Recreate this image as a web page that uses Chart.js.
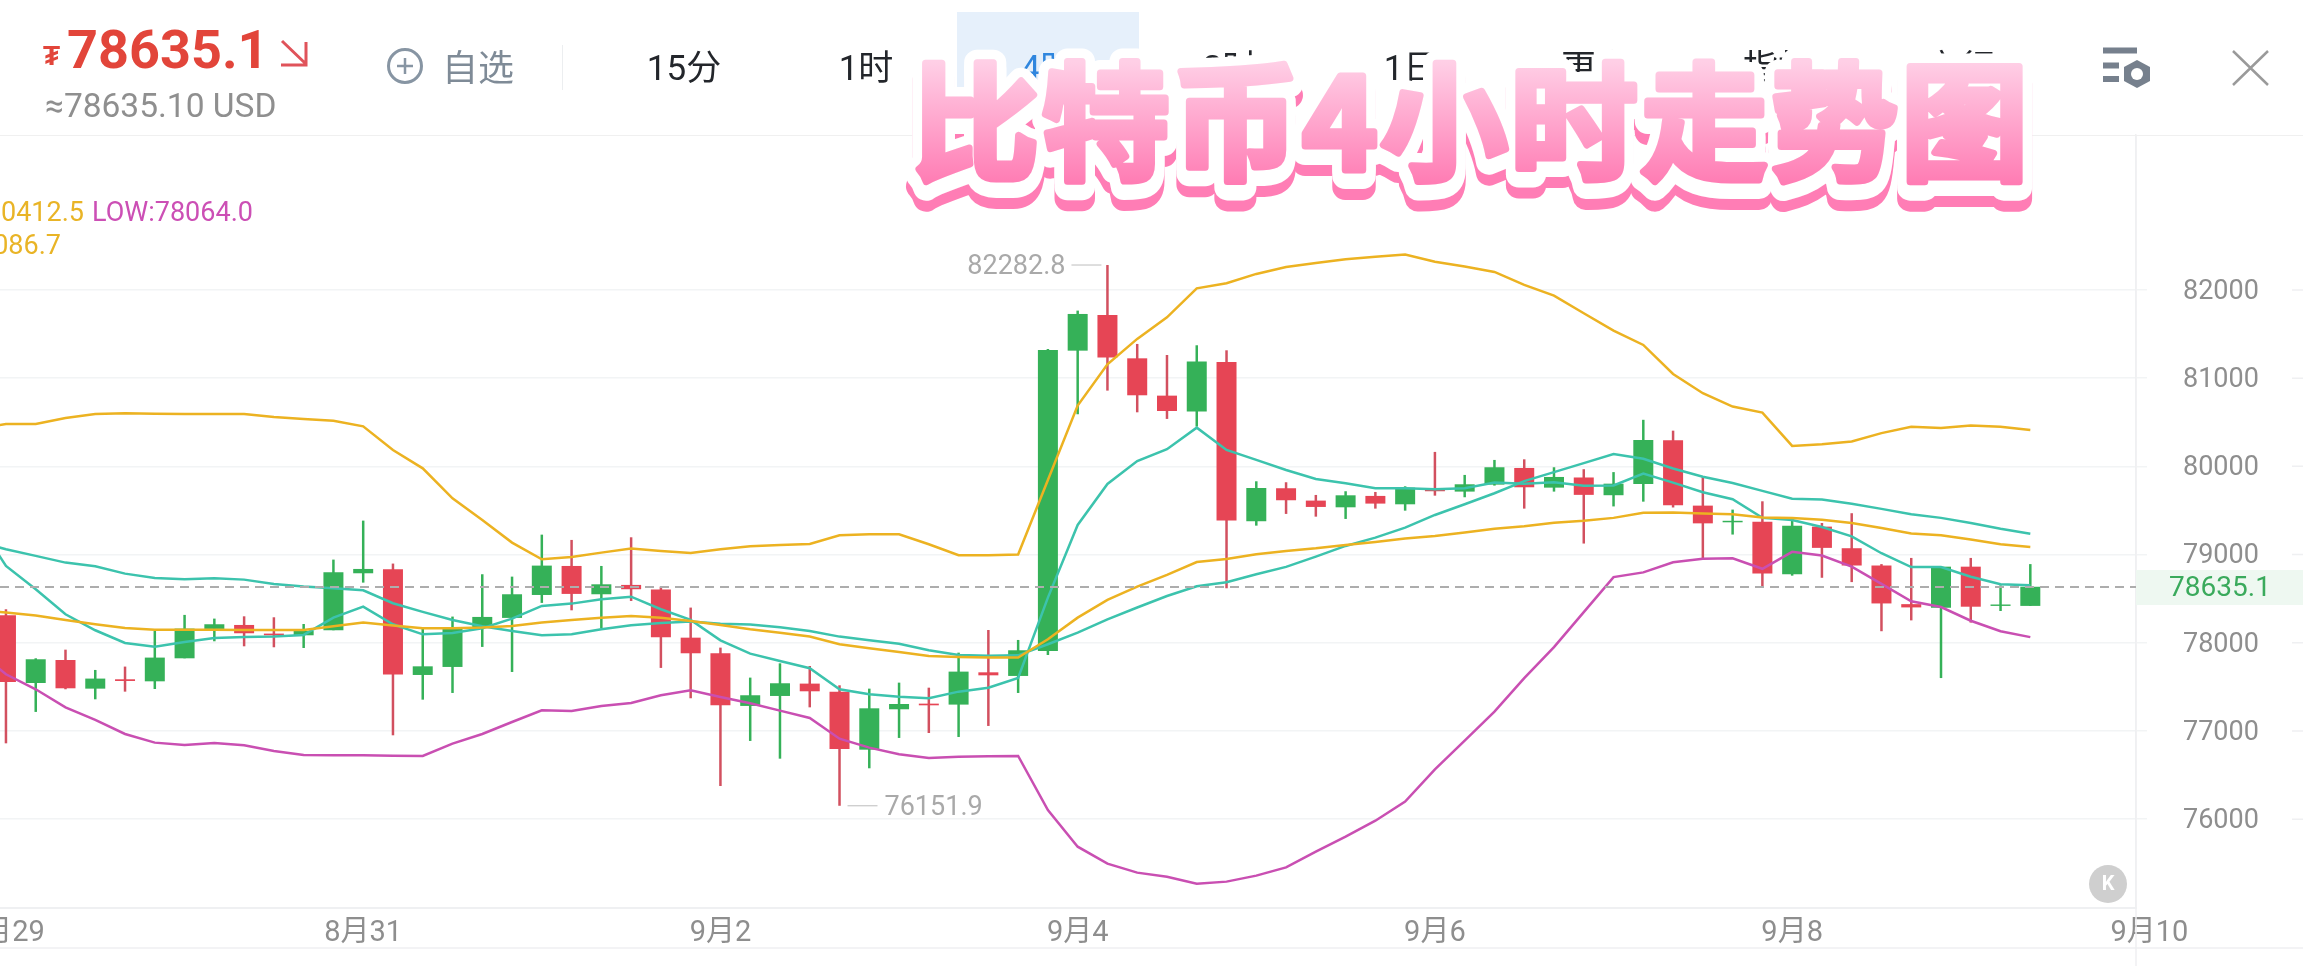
<!DOCTYPE html>
<html>
<head>
<meta charset="utf-8">
<style>
    html, body { margin: 0; padding: 0; background: #fff; }
    body { width: 2303px; height: 966px; position: relative; overflow: hidden; font-family: Roboto, "Noto Sans CJK SC", sans-serif; }
    #chart { position: absolute; left: 0; top: 0; }
    .t { position: absolute; white-space: nowrap; line-height: 1; }
    #tabBox { position: absolute; left: 957px; top: 12px; width: 182px; height: 78px; background: #e6f0fb; }
    #headLine { position: absolute; left: 0; top: 135px; width: 2303px; height: 1px; background: #f0f0f0; }
    #divider { position: absolute; left: 562px; top: 45px; width: 1px; height: 45px; background: #eceef0; }
    .tab { font-size: 35px; color: #23262b; transform: translateX(-50%); top: 51px; }
    svg { position: absolute; left: 0; top: 0; }
    #title { pointer-events: none; }
</style>
</head>
<body>
<canvas id="chart" width="2303" height="966"></canvas>

<div id="headLine"></div>
<div id="tabBox"></div>
<div id="divider"></div>

<div class="t" style="left:43px;top:42px;font-size:28px;font-weight:700;color:#e2453a">₮</div>
<div class="t" style="left:67px;top:23px;font-size:54px;font-weight:700;color:#e2453a">78635.1</div>
<div class="t" style="left:45px;top:89px;font-size:33.5px;color:#8f8f8f">≈78635.10 USD</div>
<div class="t" style="left:442px;top:51px;font-size:36px;color:#7f8b97">自选</div>

<div class="t tab" style="left:684px">15分</div>
<div class="t tab" style="left:866px">1时</div>
<div class="t tab" style="left:1048px;color:#2f86de">4时</div>
<div class="t tab" style="left:1230px">2时</div>
<div class="t tab" style="left:1411px">1日</div>
<div class="t tab" style="left:1596px">更多</div>
<div class="t tab" style="left:1778px">指标</div>
<div class="t tab" style="left:1960px">交行</div>

<svg width="2303" height="136" style="pointer-events:none">
    <path d="M282 41 L306 64 M306 42 V65 H281" fill="none" stroke="#e0535a" stroke-width="3"/>
    <circle cx="405" cy="66" r="16.5" fill="none" stroke="#8795a3" stroke-width="3"/>
    <path d="M397 66 H413 M405 58 V74" stroke="#8795a3" stroke-width="2.5"/>
    <path d="M2103 50.5 H2137 M2103 65.5 H2119 M2103 79 H2119" stroke="#76808d" stroke-width="6"/>
    <path d="M2137 60 L2150 67 V81 L2137 88 L2124 81 V67 Z" fill="#76808d"/>
    <circle cx="2137" cy="74" r="6" fill="#fff"/>
    <path d="M2233 51 L2268 85 M2268 51 L2233 85" stroke="#9a9a9a" stroke-width="2.5"/>
</svg>

<div class="t" style="right:2219px;top:199px;font-size:27px;color:#e9b426">UP:80412.5</div>
<div class="t" style="left:92px;top:199px;font-size:27px;color:#cc4fb5">LOW:78064.0</div>
<div class="t" style="right:2242px;top:232px;font-size:27px;color:#e9b426">BOLL:79086.7</div>

<svg id="title" width="2303" height="240">
    <defs>
        <linearGradient id="faceFill" gradientUnits="userSpaceOnUse" x1="0" y1="62" x2="0" y2="185">
            <stop offset="0" stop-color="#ffcfe6"/>
            <stop offset="1" stop-color="#ff7bb3"/>
        </linearGradient>
        <text id="titleText" x="912" y="170" font-family="Noto Sans CJK SC" font-weight="700" font-size="127" textLength="1116" stroke-linejoin="round">比特币4小时走势图</text>
    </defs>
    <use href="#titleText" y="17" fill="#ff7db5" stroke="#ff7db5" stroke-width="26"/>
    <use href="#titleText" y="6" fill="#fff" stroke="#fff" stroke-width="26"/>
    <use href="#titleText" fill="#fff" stroke="#fff" stroke-width="26"/>
    <use href="#titleText" fill="url(#faceFill)" stroke="url(#faceFill)" stroke-width="7"/>
</svg>

<script src="https://cdn.jsdelivr.net/npm/chart.js@4/dist/chart.umd.min.js"></script>
<script>
const dateLabels = ['8月29', '8月31', '9月2', '9月4', '9月6', '9月8', '9月10'];
const dateSlots = [0, 12, 24, 36, 48, 60, 72];
const priceTicks = [76000, 77000, 78000, 79000, 80000, 81000, 82000];
const lastPrice = 78635.1;

// 4h candles, first one is cut off by the left edge
const opens = [78312,77544,77805,77480,77586,77563,77824,78157,78202,78104,78085,78142,78788,78833,77635,77726,78168,78282,78542,78871,78550,78656,78603,78058,77881,77284,77397,77537,77446,76788,77246,77310,77299,77665,77624,77907,81312,81717,81225,80802,80621,81184,79378,79752,79612,79536,79665,79570,79737,79714,79793,79982,79759,79874,79673,79800,80295,79555,79366,79371,78778,79317,79072,78876,78438,78397,78863,78418,78418];
const closes = [77556,77813,77484,77594,77567,77832,78161,78210,78108,78085,78134,78799,78837,77639,77733,78172,78293,78550,78875,78554,78663,78607,78062,77881,77291,77405,77541,77450,76796,77257,77306,77291,77673,77631,77915,81320,81728,81233,80806,80628,81188,79385,79755,79616,79540,79672,79578,79759,79718,79797,79990,79763,79880,79677,79804,80299,79559,79354,79383,78786,79326,79076,78876,78446,78401,78863,78409,78434,78635.1];
const highs = [78380,77824,77922,77692,77730,78134,78316,78274,78300,78289,78213,78943,79385,78898,78164,78297,78777,78750,79226,79166,78871,79196,78637,78399,77945,77605,77767,77737,77518,77480,77548,77491,77888,78145,78032,81331,81766,82282.8,81388,81263,81373,81316,79831,79820,79676,79718,79710,79774,80164,79903,80073,80080,79990,79968,79935,80528,80405,79882,79510,79604,79383,79358,79469,78892,78962,78863,78962,78651,78892];
const lows = [76860,77216,77473,77359,77446,77476,77824,78017,77960,77949,77941,78142,78682,76951,77355,77431,77953,77669,78452,78368,78164,78474,77715,77371,76376,76887,76686,77268,76151.9,76577,76921,76977,76932,77057,77431,77862,80591,80859,80613,80538,80451,78618,79328,79461,79430,79404,79521,79498,79668,79650,79782,79521,79714,79125,79546,79600,79534,78953,79227,78634,78761,78737,78688,78131,78254,77600,78229,78360,78418];

// indicator lines start one slot before the first candle
const bollUpper = [80420,80481,80481,80549,80594,80601,80598,80594,80594,80594,80560,80537,80518,80454,80186,79978,79638,79392,79136,78947,78973,79022,79068,79041,79019,79060,79094,79109,79121,79219,79230,79230,79117,78992,78992,79000,79846,80689,81157,81445,81690,82019,82076,82182,82261,82306,82348,82378,82401,82321,82265,82204,82057,81936,81736,81539,81377,81048,80829,80678,80610,80232,80250,80283,80377,80450,80434,80463,80450,80412.5];
const bollMid = [78370,78342,78308,78259,78210,78168,78149,78149,78149,78145,78145,78145,78187,78229,78195,78164,78164,78172,78191,78229,78259,78285,78304,78285,78248,78202,78153,78115,78070,77983,77938,77896,77851,77839,77832,77832,78040,78285,78486,78637,78769,78916,78950,79003,79041,79071,79109,79143,79181,79211,79249,79294,79322,79362,79383,79416,79473,79477,79465,79457,79420,79416,79395,79358,79301,79240,79219,79170,79117,79086.7];
const bollLower = [77922,77643,77473,77268,77125,76966,76868,76841,76864,76838,76773,76728,76724,76724,76720,76717,76856,76966,77102,77234,77227,77284,77318,77405,77461,77386,77314,77231,77148,76913,76811,76736,76694,76709,76713,76717,76104,75688,75496,75394,75348,75269,75292,75360,75454,75632,75802,75983,76199,76565,76890,77219,77600,77951,78348,78745,78798,78913,78953,78957,78839,79031,78990,78863,78667,78471,78405,78250,78131,78064];
const maSlow = [79155,79060,78985,78909,78867,78784,78735,78720,78731,78716,78667,78637,78618,78595,78448,78350,78259,78187,78134,78085,78096,78153,78198,78225,78240,78217,78206,78176,78134,78070,78028,77990,77915,77862,77854,77858,77983,78115,78265,78400,78530,78641,78686,78777,78860,78977,79098,79192,79306,79449,79570,79695,79833,79935,80037,80140,80086,79976,79882,79812,79722,79632,79624,79575,79518,79457,79416,79358,79293,79236];
const maFast = [79393,78871,78607,78323,78142,77998,77956,78009,78055,78066,78070,78089,78285,78410,78210,78096,78111,78164,78274,78418,78444,78493,78523,78380,78259,78028,77877,77794,77711,77473,77416,77389,77371,77446,77491,77601,78512,79336,79801,80061,80194,80439,80186,80073,79959,79857,79808,79752,79752,79740,79752,79816,79804,79820,79780,79784,79919,79816,79706,79628,79416,79391,79313,79207,79015,78859,78859,78749,78663,78651];

const GREEN = '#35b158';
const RED = '#e64555';
const GRID = '#f2f4f5';
const AXIS_TEXT = '#8e8e8e';
const NOTE_TEXT = '#a9a9a9';

function candleColors(wick) {
    return opens.map((o, i) => {
        if (closes[i] >= o) return GREEN;
        return wick ? '#d2505f' : RED;
    });
}

function lineDataset(values, color) {
    return {
        type: 'line',
        data: values.map((v, i) => ({ x: i - 1, y: v })),
        borderColor: color,
        borderWidth: 2.5,
        pointRadius: 0,
        tension: 0,
        order: 1
    };
}

const priceExtras = {
    id: 'priceExtras',
    afterDatasetsDraw(chart) {
        const { ctx, chartArea, scales } = chart;
        const y = scales.y;
        const x = scales.x;
        ctx.save();

        // frame lines
        ctx.strokeStyle = '#eff0f2';
        ctx.lineWidth = 1.5;
        ctx.beginPath();
        ctx.moveTo(chartArea.right, 135);
        ctx.lineTo(chartArea.right, 966);
        ctx.moveTo(0, 948);
        ctx.lineTo(2303, 948);
        priceTicks.forEach(p => {
            ctx.moveTo(2292, y.getPixelForValue(p));
            ctx.lineTo(2303, y.getPixelForValue(p));
        });
        ctx.stroke();

        // last price line and tag
        const py = Math.round(y.getPixelForValue(lastPrice));
        ctx.strokeStyle = '#adadad';
        ctx.lineWidth = 2;
        ctx.setLineDash([9, 6]);
        ctx.beginPath();
        ctx.moveTo(chartArea.left, py);
        ctx.lineTo(chartArea.right, py);
        ctx.stroke();
        ctx.setLineDash([]);
        ctx.fillStyle = '#eef8f1';
        ctx.fillRect(chartArea.right, py - 17, 167, 35);
        ctx.fillStyle = '#3aaa5c';
        ctx.font = '28px Roboto';
        ctx.textAlign = 'center';
        ctx.textBaseline = 'middle';
        ctx.fillText(lastPrice.toFixed(1), 2220, py + 2);

        // high / low notes
        const hi = Math.max(...highs);
        const lo = Math.min(...lows);
        const hiX = x.getPixelForValue(highs.indexOf(hi));
        const loX = x.getPixelForValue(lows.indexOf(lo));
        const hiY = y.getPixelForValue(hi);
        const loY = y.getPixelForValue(lo);
        ctx.strokeStyle = '#bdbdbd';
        ctx.lineWidth = 1;
        ctx.beginPath();
        ctx.moveTo(hiX - 36, hiY);
        ctx.lineTo(hiX - 6, hiY);
        ctx.moveTo(loX + 8, loY);
        ctx.lineTo(loX + 38, loY);
        ctx.stroke();
        ctx.fillStyle = NOTE_TEXT;
        ctx.font = '27px Roboto';
        ctx.textAlign = 'right';
        ctx.fillText(hi.toFixed(1), hiX - 42, hiY + 2);
        ctx.textAlign = 'left';
        ctx.fillText(lo.toFixed(1), loX + 45, loY + 2);

        // K badge
        ctx.fillStyle = '#cfcfcf';
        ctx.beginPath();
        ctx.arc(2108, 884, 19, 0, Math.PI * 2);
        ctx.fill();
        ctx.fillStyle = '#fff';
        ctx.font = '700 20px Roboto';
        ctx.textAlign = 'center';
        ctx.fillText('K', 2108, 885);
        ctx.restore();
    }
};

new Chart(document.getElementById('chart'), {
    type: 'bar',
    data: {
        datasets: [
            lineDataset(bollUpper, '#ecb221'),
            lineDataset(bollMid, '#ecb221'),
            lineDataset(bollLower, '#c94fb2'),
            lineDataset(maSlow, '#3cc3ad'),
            lineDataset(maFast, '#3cc3ad'),
            {
                data: opens.map((o, i) => ({ x: i, y: [o, closes[i]] })),
                backgroundColor: candleColors(false),
                maxBarThickness: 20,
                grouped: false,
                order: 2
            },
            {
                data: highs.map((h, i) => ({ x: i, y: [lows[i], h] })),
                backgroundColor: candleColors(true),
                maxBarThickness: 2.5,
                grouped: false,
                order: 3
            }
        ]
    },
    options: {
        responsive: false,
        animation: false,
        devicePixelRatio: 1,
        layout: { padding: { top: 135, bottom: 0, left: 0, right: 0 } },
        plugins: { legend: { display: false }, tooltip: { enabled: false } },
        scales: {
            x: {
                type: 'linear',
                offset: false,
                min: -0.2,
                max: 71.55,
                grid: { display: false, offset: false },
                border: { color: '#eff0f2', width: 2 },
                afterBuildTicks: s => { s.ticks = dateSlots.map(v => ({ value: v })); },
                afterFit: s => { s.height = 58; s.paddingLeft = 0; s.paddingRight = 0; },
                ticks: {
                    autoSkip: false,
                    maxRotation: 0,
                    padding: 0,
                    color: AXIS_TEXT,
                    font: { size: 29, family: 'Roboto, "Noto Sans CJK SC"' },
                    callback: v => dateLabels[dateSlots.indexOf(v)]
                }
            },
            y: {
                position: 'right',
                min: 74993,
                max: 83757,
                grid: { color: GRID, lineWidth: 1.5, tickLength: 11 },
                border: { color: '#eff0f2', width: 1.5 },
                afterBuildTicks: s => { s.ticks = priceTicks.map(v => ({ value: v })); },
                afterFit: s => { s.width = 167; s.paddingTop = 0; s.paddingBottom = 0; },
                ticks: {
                    crossAlign: 'center',
                    padding: 36,
                    labelOffset: 2,
                    color: AXIS_TEXT,
                    font: { size: 27, family: 'Roboto' },
                    callback: v => String(v)
                }
            }
        }
    },
    plugins: [priceExtras]
});
</script>
</body>
</html>
